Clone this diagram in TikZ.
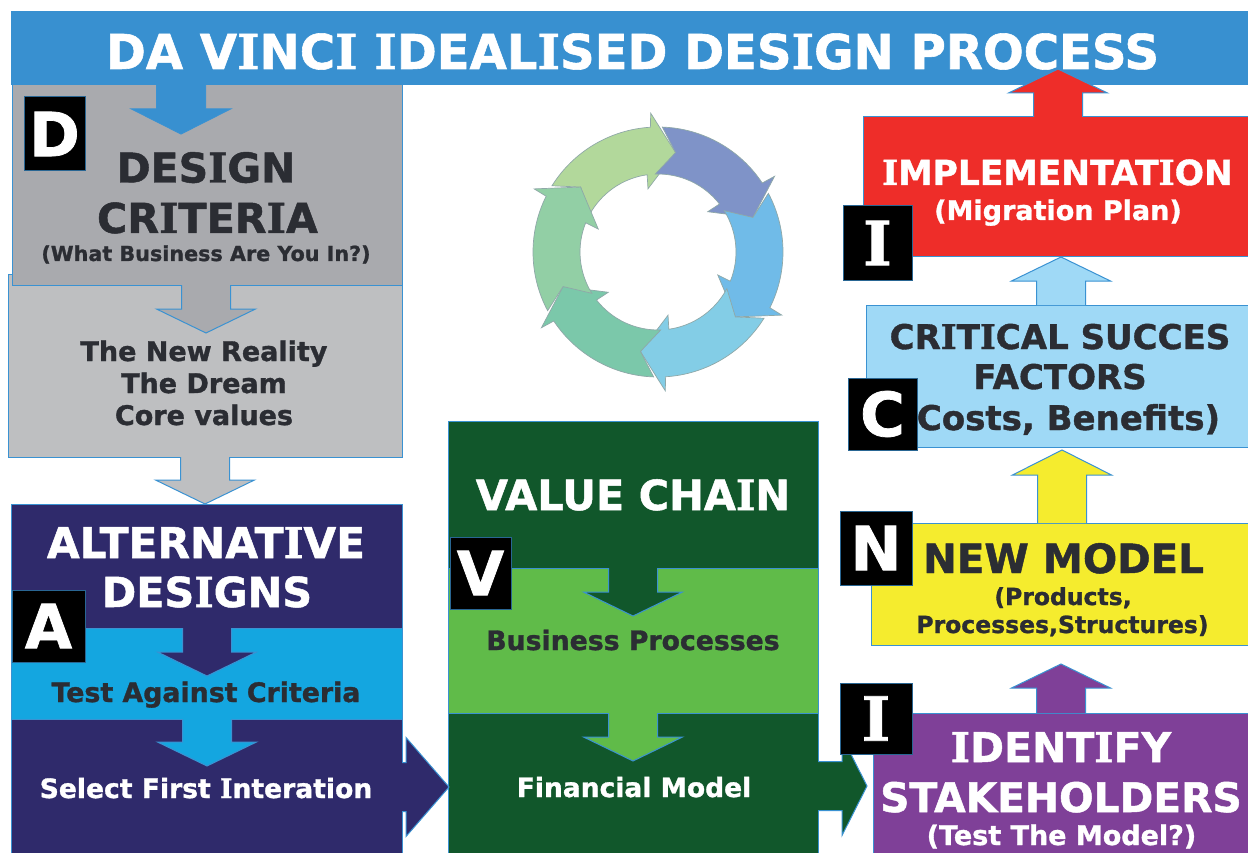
\documentclass[tikz,border=0pt]{standalone}
\usepackage{fontspec}
\setmainfont{DejaVu Sans}[BoldFeatures={FakeBold=1.2}]
\newfontfamily\slab{DejaVu Serif}[BoldFeatures={FakeBold=1.2}]
\usetikzlibrary{calc}
\definecolor{edgeblue}{HTML}{3A92D2}
\definecolor{banner}{HTML}{3890D0}
\definecolor{greyA}{HTML}{A9AAAE}
\definecolor{greyB}{HTML}{BEBFC1}
\definecolor{navy}{HTML}{2F2A6B}
\definecolor{sky}{HTML}{14A6E0}
\definecolor{forest}{HTML}{11572B}
\definecolor{leaf}{HTML}{60BB49}
\definecolor{plum}{HTML}{7F4098}
\definecolor{lemon}{HTML}{F5EC2E}
\definecolor{pale}{HTML}{9FD9F6}
\definecolor{scarlet}{HTML}{EE2D29}
\definecolor{ink}{HTML}{2B2D33}
\definecolor{ringline}{HTML}{8FA8A8}
\newcommand\vI{{\slab\bfseries I}}
\newcommand\fs[1]{\fontsize{#1}{#1}\selectfont}
\tikzset{
  panel/.style={draw=edgeblue,line width=1pt,anchor=north west,inner sep=0pt,outer sep=0pt},
  letterbox/.style={draw=edgeblue!70!black,line width=1pt,fill=black,text=white,anchor=north west,inner sep=0pt,outer sep=0pt,font=\bfseries\fs{61}},
  lab/.style={anchor=base,inner sep=0pt,font=\bfseries,align=center},
  darklab/.style={lab,text=ink},
  whitelab/.style={lab,text=white},
  blockline/.style={draw=edgeblue,line width=1pt,line join=miter},
  ringseg/.style={draw=ringline,line width=.7pt,line join=miter}
}
% \panel{name}{x0}{y0}{x1}{y1}{fill}
\newcommand\panel[6]{\node[panel,fill=#6,minimum width={(#4-#2)*1pt},minimum height={(#5-#3)*1pt}] (#1) at (#2,#3) {};}
\newcommand\letterbox[6]{\node[letterbox,minimum width={(#4-#2)*1pt},minimum height={(#5-#3)*1pt}] (#1) at (#2,#3) {#6};}
% \blockarrow{base}{tip}{fill}{head length}
\newcommand\blockarrow[4]{%
  \coordinate (B) at #1; \coordinate (T) at #2;
  \coordinate (H) at ($(T)!#4 pt!(B)$);
  \filldraw[blockline,fill=#3]
    ($(B)!24.5pt!90:(T)$) -- ($(H)!24.5pt!90:(T)$) -- ($(H)!49.5pt!90:(T)$) -- (T)
    -- ($(H)!49.5pt!-90:(T)$) -- ($(H)!24.5pt!-90:(T)$) -- ($(B)!24.5pt!-90:(T)$);
}
\begin{document}
\begin{tikzpicture}[x=1pt,y=-1pt]
\useasboundingbox[fill=white] (0,0) rectangle (1248,853);

% ---- left column
\panel{grey}{8}{275}{402}{457}{greyB}
\panel{crit}{12}{85}{402}{285}{greyA}
\node[panel,draw=none,fill=banner,minimum width=1237pt,minimum height=74pt] (top) at (11,11) {};
\panel{alt}{11}{504}{402}{628}{navy}
\panel{test}{11}{628}{402}{719}{sky}
\panel{sel}{11}{719}{402}{854}{navy}

\coordinate (tipA) at (181,134);
\coordinate (tipB) at (206,333);
\coordinate (tipC) at (205,504);
\coordinate (tipD) at (207,676);
\coordinate (tipE) at (207,766);
\blockarrow{(top.south -| tipA)}{(tipA)}{banner}{25}
\blockarrow{(crit.south -| tipB)}{(tipB)}{greyA}{24}
\blockarrow{(grey.south -| tipC)}{(tipC)}{greyB}{24}
\blockarrow{(alt.south -| tipD)}{(tipD)}{navy}{24}
\blockarrow{(test.south -| tipE)}{(tipE)}{sky}{24}

% ---- middle column
\panel{val}{448}{421}{818}{568}{forest}
\panel{biz}{448}{568}{818}{713}{leaf}
\panel{fin}{448}{713}{818}{854}{forest}
\coordinate (tipF) at (633,616);
\coordinate (tipG) at (633,761);
\coordinate (tipM) at (449,787);
\blockarrow{(val.south -| tipF)}{(tipF)}{forest}{24}
\blockarrow{(biz.south -| tipG)}{(tipG)}{leaf}{24}
\blockarrow{(sel.east |- tipM)}{(tipM)}{navy}{43}

% ---- right column
\panel{impl}{863}{117}{1249}{257}{scarlet}
\panel{csf}{866}{305}{1249}{447}{pale}
\panel{newm}{871}{523}{1249}{645}{lemon}
\panel{stake}{873}{713}{1249}{854}{plum}
\coordinate (tipH) at (1058,69);
\coordinate (tipI) at (1061,257);
\coordinate (tipJ) at (1062,450);
\coordinate (tipK) at (1061,664);
\coordinate (tipL) at (867,786);
\blockarrow{(impl.north -| tipH)}{(tipH)}{scarlet}{24}
\blockarrow{(csf.north -| tipI)}{(impl.south -| tipI)}{pale}{24}
\blockarrow{(newm.north -| tipJ)}{(tipJ)}{lemon}{25}
\blockarrow{(stake.north -| tipK)}{(tipK)}{plum}{24}
\blockarrow{(fin.east |- tipL)}{(tipL)}{forest}{25}

% ---- ring of six arrows
\begin{scope}[shift={(658,252)},x=1pt,y=1pt]
\foreach \a/\c in {80/B2D89B,20/7F93C8,-40/70BBE8,-100/83CDE6,-160/7BC8AA,140/92CFA5}{
  \definecolor{segc}{HTML}{\c}
  \pgfmathsetmacro\ta{\a+68}\pgfmathsetmacro\tb{\a+72}
  \pgfmathsetmacro\na{\a+13.5}\pgfmathsetmacro\nb{\a+18}
  \pgfmathsetmacro\wa{\a+13}\pgfmathsetmacro\wb{\a+19}\pgfmathsetmacro\tp{\a+60}
  \filldraw[ringseg,fill=segc]
    (\ta:125) arc[start angle=\ta,end angle=\na,radius=125]
    -- (\wa:139) -- (\a:101) -- (\wb:64) -- (\nb:78)
    arc[start angle=\nb,end angle=\tb,radius=78]
    -- (\tp:101) -- cycle;
}
\end{scope}

% ---- texts
\node[whitelab,font=\bfseries\fs{48.1}] (ttitle) at (632.5,69) {DA V\vI NC\vI{} \vI DEAL\vI SED DES\vI GN PROCESS};
\node[darklab,font=\bfseries\fs{41}] (t1) at (206,182.5) {DES\vI GN};
\node[darklab,font=\bfseries\fs{41.3}] (t2) at (207.5,233) {CR\vI TER\vI A};
\node[darklab,font=\bfseries\fs{20.7}] (t3) at (206,261) {(What Business Are You In?)};
\node[darklab,font=\bfseries\fs{27}] (t4) at (204,361) {The New Reality};
\node[darklab,font=\bfseries\fs{27}] (t5) at (204,393) {The Dream};
\node[darklab,font=\bfseries\fs{27}] (t6) at (204,425) {Core values};
\node[whitelab,font=\bfseries\fs{42.3}] (t7) at (206,558) {ALTERNAT\vI VE};
\node[whitelab,font=\bfseries\fs{41.4}] (t8) at (207,607) {DES\vI GNS};
\node[darklab,font=\bfseries\fs{26.8}] (t9) at (206,702) {Test Against Criteria};
\node[whitelab,font=\bfseries\fs{26.6}] (t10) at (206,798) {Select First \vI nteration};
\node[whitelab,font=\bfseries\fs{41.5}] (t11) at (633,510) {VALUE CHA\vI N};
\node[darklab,font=\bfseries\fs{26.7}] (t12) at (633,650) {Business Processes};
\node[whitelab,font=\bfseries\fs{26.5}] (t13) at (634,797) {Financial Model};
\node[whitelab,font=\bfseries\fs{41}] (t14) at (1061,762) {\vI DENT\vI FY};
\node[whitelab,font=\bfseries\fs{40.7}] (t15) at (1061,812) {STAKEHOLDERS};
\node[whitelab,font=\bfseries\fs{27}] (t16) at (1061.5,845) {(Test The Model?)};
\node[darklab,font=\bfseries\fs{40.3}] (t17) at (1063.5,573) {NEW MODEL};
\node[darklab,font=\bfseries\fs{23.5}] (t18) at (1063,605) {(Products,};
\node[darklab,font=\bfseries\fs{23.5}] (t19) at (1062.5,633) {Processes,Structures)};
\node[darklab,font=\bfseries\fs{34}] (t20) at (1060,349) {CR\vI T\vI CAL SUCCES};
\node[darklab,font=\bfseries\fs{34}] (t21) at (1060,389) {FACTORS};
\node[darklab,font=\bfseries\fs{34}] (t22) at (1068.5,430) {Costs, Benefits)};
\node[whitelab,font=\bfseries\fs{34.5}] (t23) at (1057.5,185) {\vI MPLEMENTAT\vI ON};
\node[whitelab,font=\bfseries\fs{27}] (t24) at (1058,220) {(Migration Plan)};

% ---- letter tiles
\letterbox{lD}{24}{97}{85}{171}{D}
\letterbox{lA}{12}{590}{85}{662}{A}
\letterbox{lV}{450}{537}{511}{609}{V}
\letterbox{lI}{843}{206}{912}{280}{\slab\bfseries I}
\letterbox{lC}{848}{378}{917}{450}{C}
\letterbox{lN}{840}{511}{912}{585}{N}
\letterbox{lJ}{840}{683}{912}{754}{\slab\bfseries I}
\end{tikzpicture}
\end{document}
